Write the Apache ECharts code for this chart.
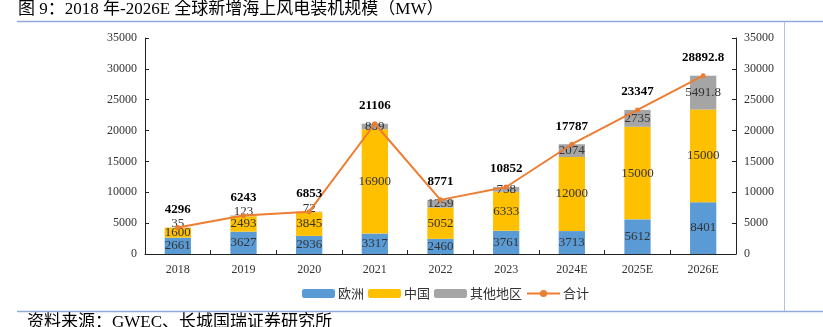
<!DOCTYPE html>
<html><head><meta charset="utf-8">
<script src="https://cdn.jsdelivr.net/npm/echarts@6/dist/echarts.min.js"></script>
<style>html,body{margin:0;padding:0;background:#fff}#c{width:823px;height:327px}</style>
</head><body><div id="c"></div>
<script>
const categories = ['2018','2019','2020','2021','2022','2023','2024E','2025E','2026E'];
const europe = [2661,3627,2936,3317,2460,3761,3713,5612,8401];
const china = [1600,2493,3845,16900,5052,6333,12000,15000,15000];
const others = [35,123,72,889,1259,758,2074,2735,5491.8];
const total = [4296,6243,6853,21106,8771,10852,17787,23347,28892.8];
const yTicks = {min:0,max:35000,interval:5000};

const serif = 'Liberation Serif, Noto Sans CJK SC';
const chart = echarts.init(document.getElementById('c'), null, {renderer:'canvas'});
const segLabel = {show:true, position:'inside', color:'#333', fontFamily:serif, fontSize:13};
const othersData = others.map(v => v < 200
  ? {value:v, label:{show:true, position:'top', distance:-3, color:'#333', fontFamily:serif, fontSize:13}}
  : v);
const yAxisBase = {
  type:'value', min:yTicks.min, max:yTicks.max, interval:yTicks.interval,
  splitLine:{show:false},
  axisLine:{show:true, lineStyle:{color:'#222', width:1}},
  axisTick:{show:true, inside:true, length:4, lineStyle:{color:'#222'}},
  axisLabel:{color:'#333', fontFamily:serif, fontSize:12, margin:8, formatter:v => String(v)}
};
chart.setOption({
  animation:false,
  textStyle:{fontFamily:serif},
  grid:{left:145, right:87, top:38, bottom:73},
  graphic:[
    {type:'text', left:18, top:1, style:{text:'图 9：2018 年-2026E 全球新增海上风电装机规模（MW）', font:'17px Liberation Serif, Noto Sans CJK SC', fill:'#000'}},
    {type:'line', shape:{x1:17,y1:21.5,x2:823,y2:21.5}, style:{stroke:'#8FAADC', lineWidth:1.5}},
    {type:'line', shape:{x1:784.5,y1:22,x2:784.5,y2:311}, style:{stroke:'#B4C1D9', lineWidth:1}},
    {type:'line', shape:{x1:17,y1:311.5,x2:823,y2:311.5}, style:{stroke:'#8FAADC', lineWidth:1.5}},
    {type:'text', left:27, top:314, style:{text:'资料来源：GWEC、长城国瑞证券研究所', font:'17px Liberation Serif, Noto Sans CJK SC', fill:'#000'}}
  ],
  legend:{
    top:282, left:297, itemGap:4, itemWidth:33, itemHeight:9,
    textStyle:{fontFamily:'Noto Sans CJK SC', fontSize:13, color:'#333', padding:[0,0,0,-2]},
    data:['欧洲','中国','其他地区','合计']
  },
  xAxis:{
    type:'category', data:categories,
    axisLine:{lineStyle:{color:'#222'}},
    axisTick:{show:true, inside:true, length:4, lineStyle:{color:'#222'}},
    axisLabel:{color:'#333', fontFamily:serif, fontSize:12, margin:10}
  },
  yAxis:[Object.assign({}, yAxisBase, {position:'left'}), Object.assign({}, yAxisBase, {position:'right'})],
  series:[
    {name:'欧洲', type:'bar', stack:'s', barWidth:'40%', data:europe, itemStyle:{color:'#5B9BD5'}, label:segLabel},
    {name:'中国', type:'bar', stack:'s', data:china, itemStyle:{color:'#FFC000'}, label:segLabel},
    {name:'其他地区', type:'bar', stack:'s', data:othersData, itemStyle:{color:'#A5A5A5'}, label:segLabel},
    {name:'合计', type:'line', data:total, symbol:'circle', symbolSize:5,
     itemStyle:{color:'#ED7D31'}, lineStyle:{color:'#ED7D31', width:2},
     label:{show:true, position:'top', distance:9, color:'#000', fontWeight:'bold', fontFamily:serif, fontSize:13}}
  ]
});
</script></body></html>
